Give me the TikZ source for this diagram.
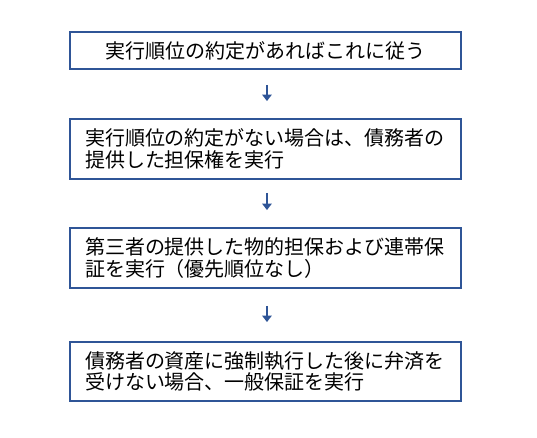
\documentclass[tikz,border=0pt]{standalone}
\usepackage{fontspec}
\setmainfont{Noto Sans CJK JP}
\usetikzlibrary{arrows.meta}
\definecolor{boxblue}{RGB}{47,85,151}
\tikzset{
  flowbox/.style={draw=boxblue, line width=1.4pt, rectangle, inner xsep=11.25pt, inner ysep=0pt,
    minimum width=293.25pt, font=\fontsize{15pt}{16.3pt}\selectfont, text=black},
  leftbox/.style={flowbox, align=left, text width=270.75pt},
  flowarrow/.style={draw=boxblue, line width=1.7pt, -{Triangle[width=7pt,length=4.8pt]}}
}
\begin{document}
\begin{tikzpicture}[x=0.75pt, y=-0.75pt]
\useasboundingbox (0,0) rectangle (537,437);
\node[flowbox, minimum height=27.75pt, align=center] (b1) at (265.5,50.5) {実行順位の約定があればこれに従う};
\node[leftbox, minimum height=45pt] (b2) at (265.5,149) {実行順位の約定がない場合は、債務者の\\提供した担保権を実行};
\node[leftbox, minimum height=45pt] (b3) at (265.5,258) {第三者の提供した物的担保および連帯保\\証を実行（優先順位なし）};
\node[leftbox, minimum height=44.25pt] (b4) at (265.5,371.5) {債務者の資産に強制執行した後に弁済を\\受けない場合、一般保証を実行};
\draw[flowarrow, shorten <=11.25pt, shorten >=12.75pt] ([xshift=1.1pt]b1.south) -- ([xshift=1.1pt]b2.north);
\draw[flowarrow, shorten <=9.75pt, shorten >=12.75pt] ([xshift=1.1pt]b2.south) -- ([xshift=1.1pt]b3.north);
\draw[flowarrow, shorten <=12.75pt, shorten >=14.25pt] ([xshift=1.1pt]b3.south) -- ([xshift=1.1pt]b4.north);
\end{tikzpicture}
\end{document}
